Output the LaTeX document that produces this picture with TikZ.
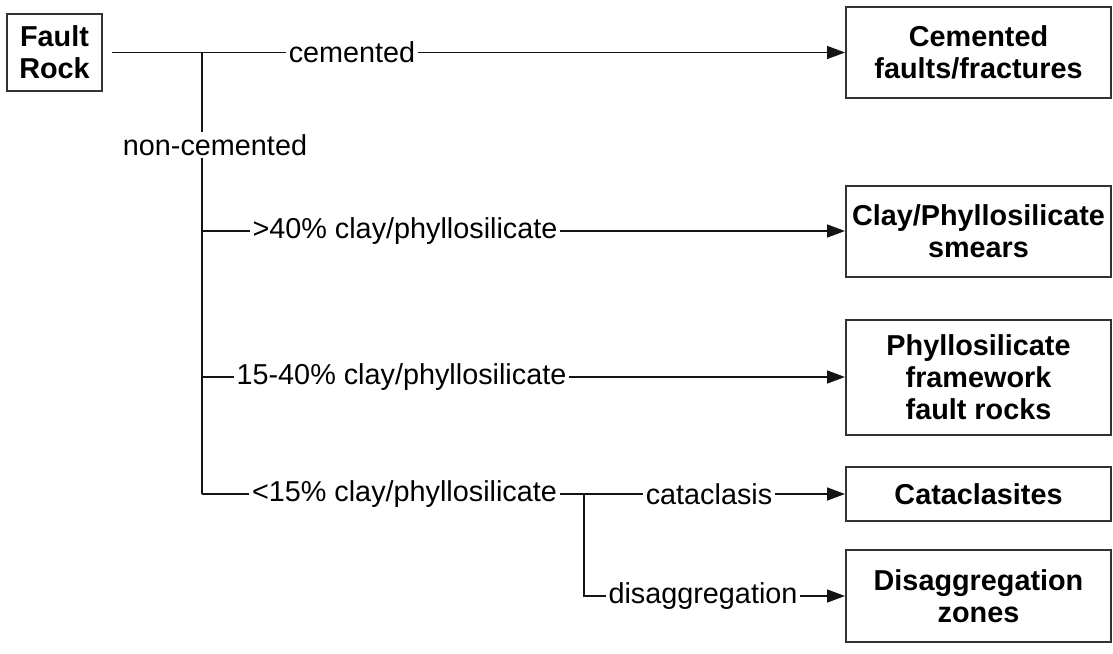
\documentclass[tikz,border=0pt]{standalone}
\usepackage{fontspec}
\setmainfont{Liberation Sans}
\usepackage{tikz}
\usetikzlibrary{arrows.meta,positioning}
\definecolor{linegray}{RGB}{20,20,20}
\definecolor{boxgray}{RGB}{50,50,50}
\tikzset{
  rockbox/.style={draw=boxgray,line width=1pt,align=center,inner sep=0pt,
    font=\bfseries\fontsize{14.4}{16}\selectfont},
  branchlab/.style={fill=white,inner xsep=1.5pt,inner ysep=1pt,
    font=\fontsize{14.4}{16}\selectfont},
  feed/.style={line width=0.75pt,draw=linegray},
  arr/.style={-{Triangle[length=9pt,width=6.5pt]},line width=0.75pt,draw=linegray}
}

\begin{document}
\begin{tikzpicture}[x=0.5pt,y=-0.5pt]
\useasboundingbox (0,0) rectangle (1113,653);

% classes of fault rock
\node[rockbox,minimum width=47.5pt,minimum height=38.5pt] (fault) at (54.5,52.5) {Fault\\Rock};
\node[rockbox,minimum width=132.5pt,minimum height=45.5pt] (cem) at (978.5,52.5) {Cemented\\faults/fractures};
\node[rockbox,minimum width=132.5pt,minimum height=45.5pt] (clay) at (978.5,231) {Clay/Phyllosilicate\\smears};
\node[rockbox,minimum width=132.5pt,minimum height=57.5pt] (frame) at (978.5,377) {Phyllosilicate\\framework\\fault rocks};
\node[rockbox,minimum width=132.5pt,minimum height=27pt] (cata) at (978.5,494) {Cataclasites};
\node[rockbox,minimum width=132.5pt,minimum height=46pt] (disagg) at (978.5,596) {Disaggregation\\zones};

\coordinate (jtop) at (202,52.5);
\coordinate (jbot) at (202,494);
\coordinate (jsub) at (584,494);

\draw[feed] ([xshift=4.5pt]fault.east) -- (jtop);
\draw[arr] (jtop) -- (cem.west);
\draw[feed] (jtop) -- (jbot);
\draw[arr] (jtop |- clay.west) -- (clay.west);
\draw[arr] (jtop |- frame.west) -- (frame.west);
\draw[feed] (jbot) -- (jsub);
\draw[arr] (jsub) -- (cata.west);
\draw[arr] (jsub) |- (disagg.west);

% labels sit on the lines
\node[branchlab] (lcem) at (352,52.5) {cemented};
\node[branchlab] (lnon) at (215,145) {non-cemented};
\node[branchlab] (lhigh) at (405,231) {>40\% clay/phyllosilicate};
\node[branchlab] (lmid) at (401.5,377) {15-40\% clay/phyllosilicate};
\node[branchlab] (llow) at (404.5,494) {<15\% clay/phyllosilicate};
\node[branchlab] (lcata) at (709,494) {cataclasis};
\node[branchlab] (ldis) at (703,596) {disaggregation};

\end{tikzpicture}
\end{document}
